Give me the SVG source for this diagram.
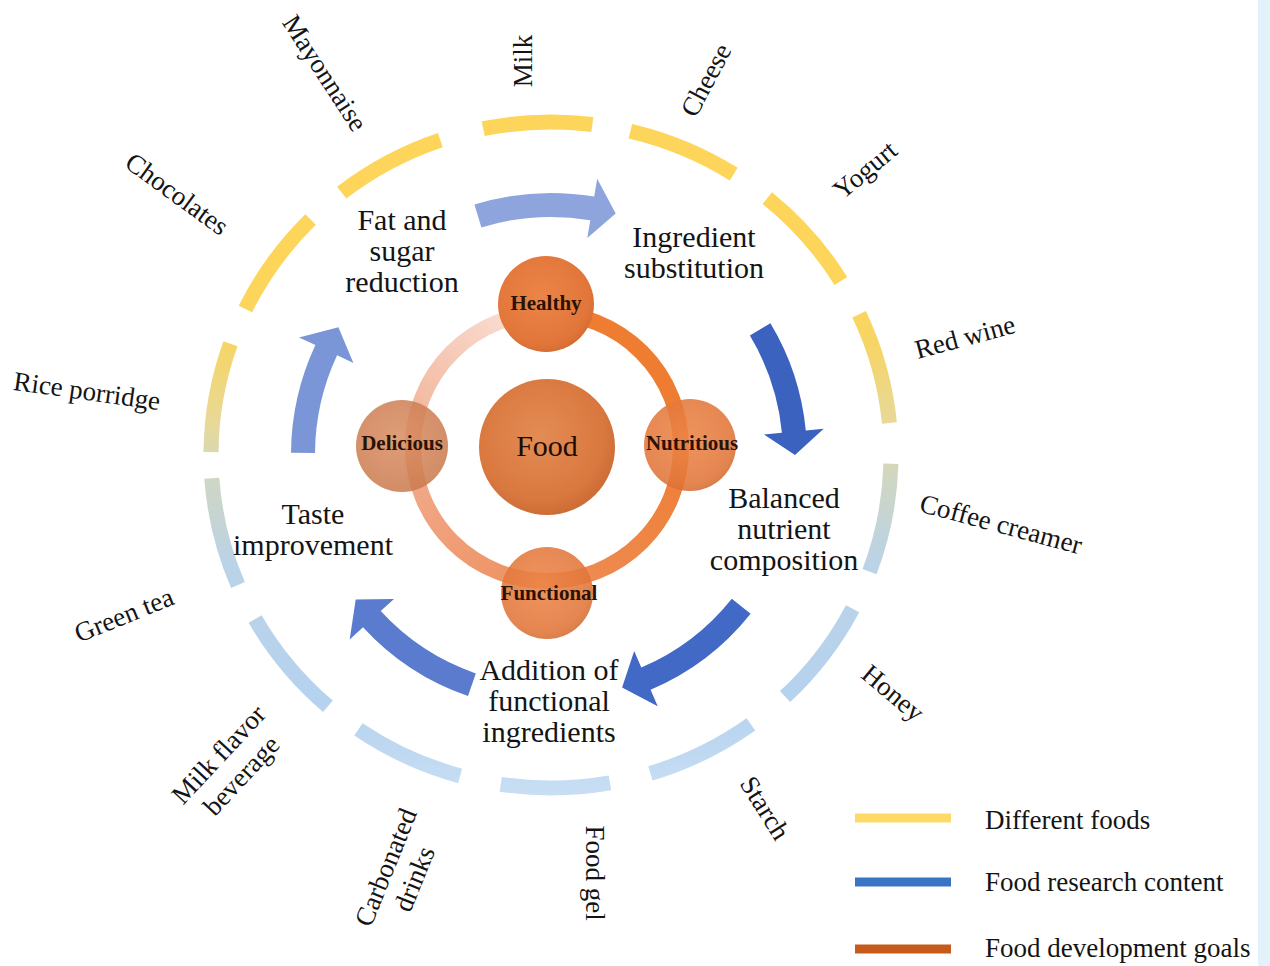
<svg xmlns="http://www.w3.org/2000/svg" width="1270" height="966" viewBox="0 0 1270 966">
<defs>
<style>
text{font-family:"Liberation Serif","Times New Roman",serif;fill:#141414;text-anchor:middle}
.main{font-size:30px}
.food{font-size:27px}
.goal{font-size:21px;font-weight:bold;fill:#2a1206}
.center{font-size:30px;fill:#1e0d04}
.leg{font-size:27px;text-anchor:start}
.arc{fill:none;stroke:url(#gArc);stroke-width:15}
.ring{fill:none;stroke-width:16}
</style>
<linearGradient id="gArc" gradientUnits="userSpaceOnUse" x1="0" y1="100" x2="0" y2="800">
<stop offset="0" stop-color="#FDD55B"/>
<stop offset="0.28" stop-color="#FDD55B"/>
<stop offset="0.35" stop-color="#F6D566"/>
<stop offset="0.46" stop-color="#E8D998"/>
<stop offset="0.54" stop-color="#CFD6C3"/>
<stop offset="0.66" stop-color="#BBD3E6"/>
<stop offset="0.86" stop-color="#B5D2EF"/>
<stop offset="1" stop-color="#C9DFF4"/>
</linearGradient>
<linearGradient id="gQ2" gradientUnits="userSpaceOnUse" x1="681" y1="447" x2="547" y2="581">
<stop offset="0" stop-color="#EE7F36"/><stop offset="1" stop-color="#EE8D55"/>
</linearGradient>
<linearGradient id="gQ3" gradientUnits="userSpaceOnUse" x1="547" y1="581" x2="413" y2="447">
<stop offset="0" stop-color="#EE9060"/><stop offset="1" stop-color="#F1AC8E"/>
</linearGradient>
<linearGradient id="gQ4" gradientUnits="userSpaceOnUse" x1="413" y1="447" x2="547" y2="313">
<stop offset="0" stop-color="#F1B196"/><stop offset="1" stop-color="#FBE4DA"/>
</linearGradient>
<radialGradient id="gFood" cx="0.45" cy="0.42" r="0.62">
<stop offset="0" stop-color="#E38C55"/><stop offset="0.75" stop-color="#D9783F"/><stop offset="1" stop-color="#C96A33"/>
</radialGradient>
<radialGradient id="gSmall" cx="0.45" cy="0.42" r="0.62">
<stop offset="0" stop-color="#EC8547"/><stop offset="0.8" stop-color="#E2763A"/><stop offset="1" stop-color="#D06A30"/>
</radialGradient>
<radialGradient id="gDel" cx="0.45" cy="0.42" r="0.62">
<stop offset="0" stop-color="#D98D62"/><stop offset="1" stop-color="#C9794C"/>
</radialGradient>
</defs>

<rect x="0" y="0" width="1270" height="966" fill="#ffffff"/>
<rect x="1258" y="0" width="12" height="966" fill="#E3F2FA"/>

<!-- Outer ring: different foods -->
<g id="foods">
<g id="food-milk"><path class="arc" d="M483.2,128.7 A340,333 0 0,1 592.4,124.5"/><text class="food" transform="translate(523,61) rotate(-90)" x="0" y="9">Milk</text></g>
<g id="food-cheese"><path class="arc" d="M630.4,131.2 A340,333 0 0,1 733.7,174.1"/><text class="food" transform="translate(706,80) rotate(-62)" x="0" y="9">Cheese</text></g>
<g id="food-yogurt"><path class="arc" d="M767.3,198.1 A340,333 0 0,1 840.9,281.0"/><text class="food" transform="translate(865,170) rotate(-40)" x="0" y="9">Yogurt</text></g>
<g id="food-redwine"><path class="arc" d="M859.1,314.3 A340,333 0 0,1 889.4,423.1"/><text class="food" transform="translate(965,337) rotate(-15)" x="0" y="9">Red wine</text></g>
<g id="food-coffee"><path class="arc" d="M890.9,463.7 A340,333 0 0,1 869.5,571.6"/><text class="food" transform="translate(1001,524) rotate(15)" x="0" y="9">Coffee creamer</text></g>
<g id="food-honey"><path class="arc" d="M852.6,608.7 A340,333 0 0,1 785.1,696.6"/><text class="food" transform="translate(893,693) rotate(40)" x="0" y="9">Honey</text></g>
<g id="food-starch"><path class="arc" d="M750.9,724.4 A340,333 0 0,1 650.4,773.4"/><text class="food" transform="translate(765,808) rotate(58)" x="0" y="9">Starch</text></g>
<g id="food-gel"><path class="arc" d="M610.0,782.9 A340,333 0 0,1 500.7,784.3"/><text class="food" transform="translate(595,873) rotate(90)" x="0" y="9">Food gel</text></g>
<g id="food-carbonated"><path class="arc" d="M460.1,775.9 A340,333 0 0,1 358.4,729.4"/><text class="food" transform="translate(400,873) rotate(-68)"><tspan x="0" y="-6.5">Carbonated</tspan><tspan x="0" y="24.5">drinks</tspan></text></g>
<g id="food-milkflavor"><path class="arc" d="M327.9,706.3 A340,333 0 0,1 255.1,619.0"/><text class="food" transform="translate(230,765) rotate(-47)"><tspan x="0" y="-6.5">Milk flavor</tspan><tspan x="0" y="24.5">beverage</tspan></text></g>
<g id="food-greentea"><path class="arc" d="M238.0,585.1 A340,333 0 0,1 211.8,478.2"/><text class="food" transform="translate(124,615) rotate(-22)" x="0" y="9">Green tea</text></g>
<g id="food-rice"><path class="arc" d="M211.0,452.1 A340,333 0 0,1 230.5,343.8"/><text class="food" transform="translate(87,391) rotate(8)" x="0" y="9">Rice porridge</text></g>
<g id="food-chocolates"><path class="arc" d="M245.4,309.0 A340,333 0 0,1 310.6,219.5"/><text class="food" transform="translate(177,194) rotate(36)" x="0" y="9">Chocolates</text></g>
<g id="food-mayonnaise"><path class="arc" d="M341.7,192.6 A340,333 0 0,1 440.3,140.1"/><text class="food" transform="translate(325,73) rotate(57)" x="0" y="9">Mayonnaise</text></g>
</g>

<!-- Connectors: research content arrows -->
<g id="connectors">
<path fill="#8EA4DC" d="M474.4,204.5 A262,262 0 0,1 594.2,196.6 L597.2,178.8 L615.7,213.5 L587.3,238.0 L590.3,220.3 A238,238 0 0,0 481.4,227.4 Z"/>
<path fill="#3A62BE" d="M770.4,323.2 A256,256 0 0,1 805.8,430.5 L823.7,428.8 L795,455 L764.0,434.5 L781.9,432.8 A232,232 0 0,0 749.9,335.5 Z"/>
<path fill="#4169C5" d="M750.6,613.7 A255,255 0 0,1 650.6,689.7 L657.7,706.3 L622.1,687.4 L634.2,651.1 L641.3,667.6 A231,231 0 0,0 731.8,598.8 Z"/>
<path fill="#5A7BCE" d="M468.0,696.1 A255,255 0 0,1 363.0,627.3 L349.7,639.4 L355.7,599.5 L394.0,598.9 L380.7,611.1 A231,231 0 0,0 475.8,673.4 Z"/>
<path fill="#7B96D7" d="M291.0,452.7 A260,260 0 0,1 315.4,345.1 L299.0,337.5 L338.4,327.3 L353.4,362.9 L337.1,355.3 A236,236 0 0,0 315.0,452.9 Z"/>
</g>

<!-- Research content labels -->
<g id="fat-sugar"><text class="main" x="402" y="230">Fat and</text><text class="main" x="402" y="261">sugar</text><text class="main" x="402" y="292">reduction</text></g>
<g id="ingredient-substitution"><text class="main" x="694" y="247">Ingredient</text><text class="main" x="694" y="278">substitution</text></g>
<g id="balanced-nutrient"><text class="main" x="784" y="508">Balanced</text><text class="main" x="784" y="539">nutrient</text><text class="main" x="784" y="570">composition</text></g>
<g id="functional-ingredients"><text class="main" x="549" y="680">Addition of</text><text class="main" x="549" y="711">functional</text><text class="main" x="549" y="742">ingredients</text></g>
<g id="taste-improvement"><text class="main" x="313" y="524">Taste</text><text class="main" x="313" y="555">improvement</text></g>

<!-- Development goals ring -->
<g id="goal-ring">
<path class="ring" stroke="#EE7D31" d="M547,313 A134,134 0 0,1 681,447"/>
<path class="ring" stroke="url(#gQ2)" d="M681,447 A134,134 0 0,1 547,581"/>
<path class="ring" stroke="url(#gQ3)" d="M547,581 A134,134 0 0,1 413,447"/>
<path class="ring" stroke="url(#gQ4)" d="M413,447 A134,134 0 0,1 547,313"/>
</g>
<g id="food-center"><circle cx="547" cy="447" r="68" fill="url(#gFood)"/><text class="center" x="547" y="456">Food</text></g>
<g id="goal-healthy"><circle cx="546" cy="304" r="48" fill="url(#gSmall)"/><text class="goal" x="546" y="310">Healthy</text></g>
<g id="goal-delicious"><circle cx="402" cy="446" r="46" fill="url(#gDel)" opacity="0.86"/><text class="goal" x="402" y="450">Delicious</text></g>
<g id="goal-nutritious"><circle cx="690" cy="445" r="46" fill="url(#gSmall)" opacity="0.88"/><text class="goal" x="692" y="450">Nutritious</text></g>
<g id="goal-functional"><circle cx="547" cy="593" r="46" fill="url(#gSmall)" opacity="0.88"/><text class="goal" x="549" y="600">Functional</text></g>

<!-- Legend -->
<g id="legend">
<rect x="855" y="813.5" width="96" height="9" fill="#FFD966"/>
<text class="leg" x="985" y="829">Different foods</text>
<rect x="855" y="877.5" width="96" height="9" fill="#3A74C4"/>
<text class="leg" x="985" y="891">Food research content</text>
<rect x="855" y="944.5" width="96" height="9" fill="#C65A1A"/>
<text class="leg" x="985" y="957">Food development goals</text>
</g>
</svg>
